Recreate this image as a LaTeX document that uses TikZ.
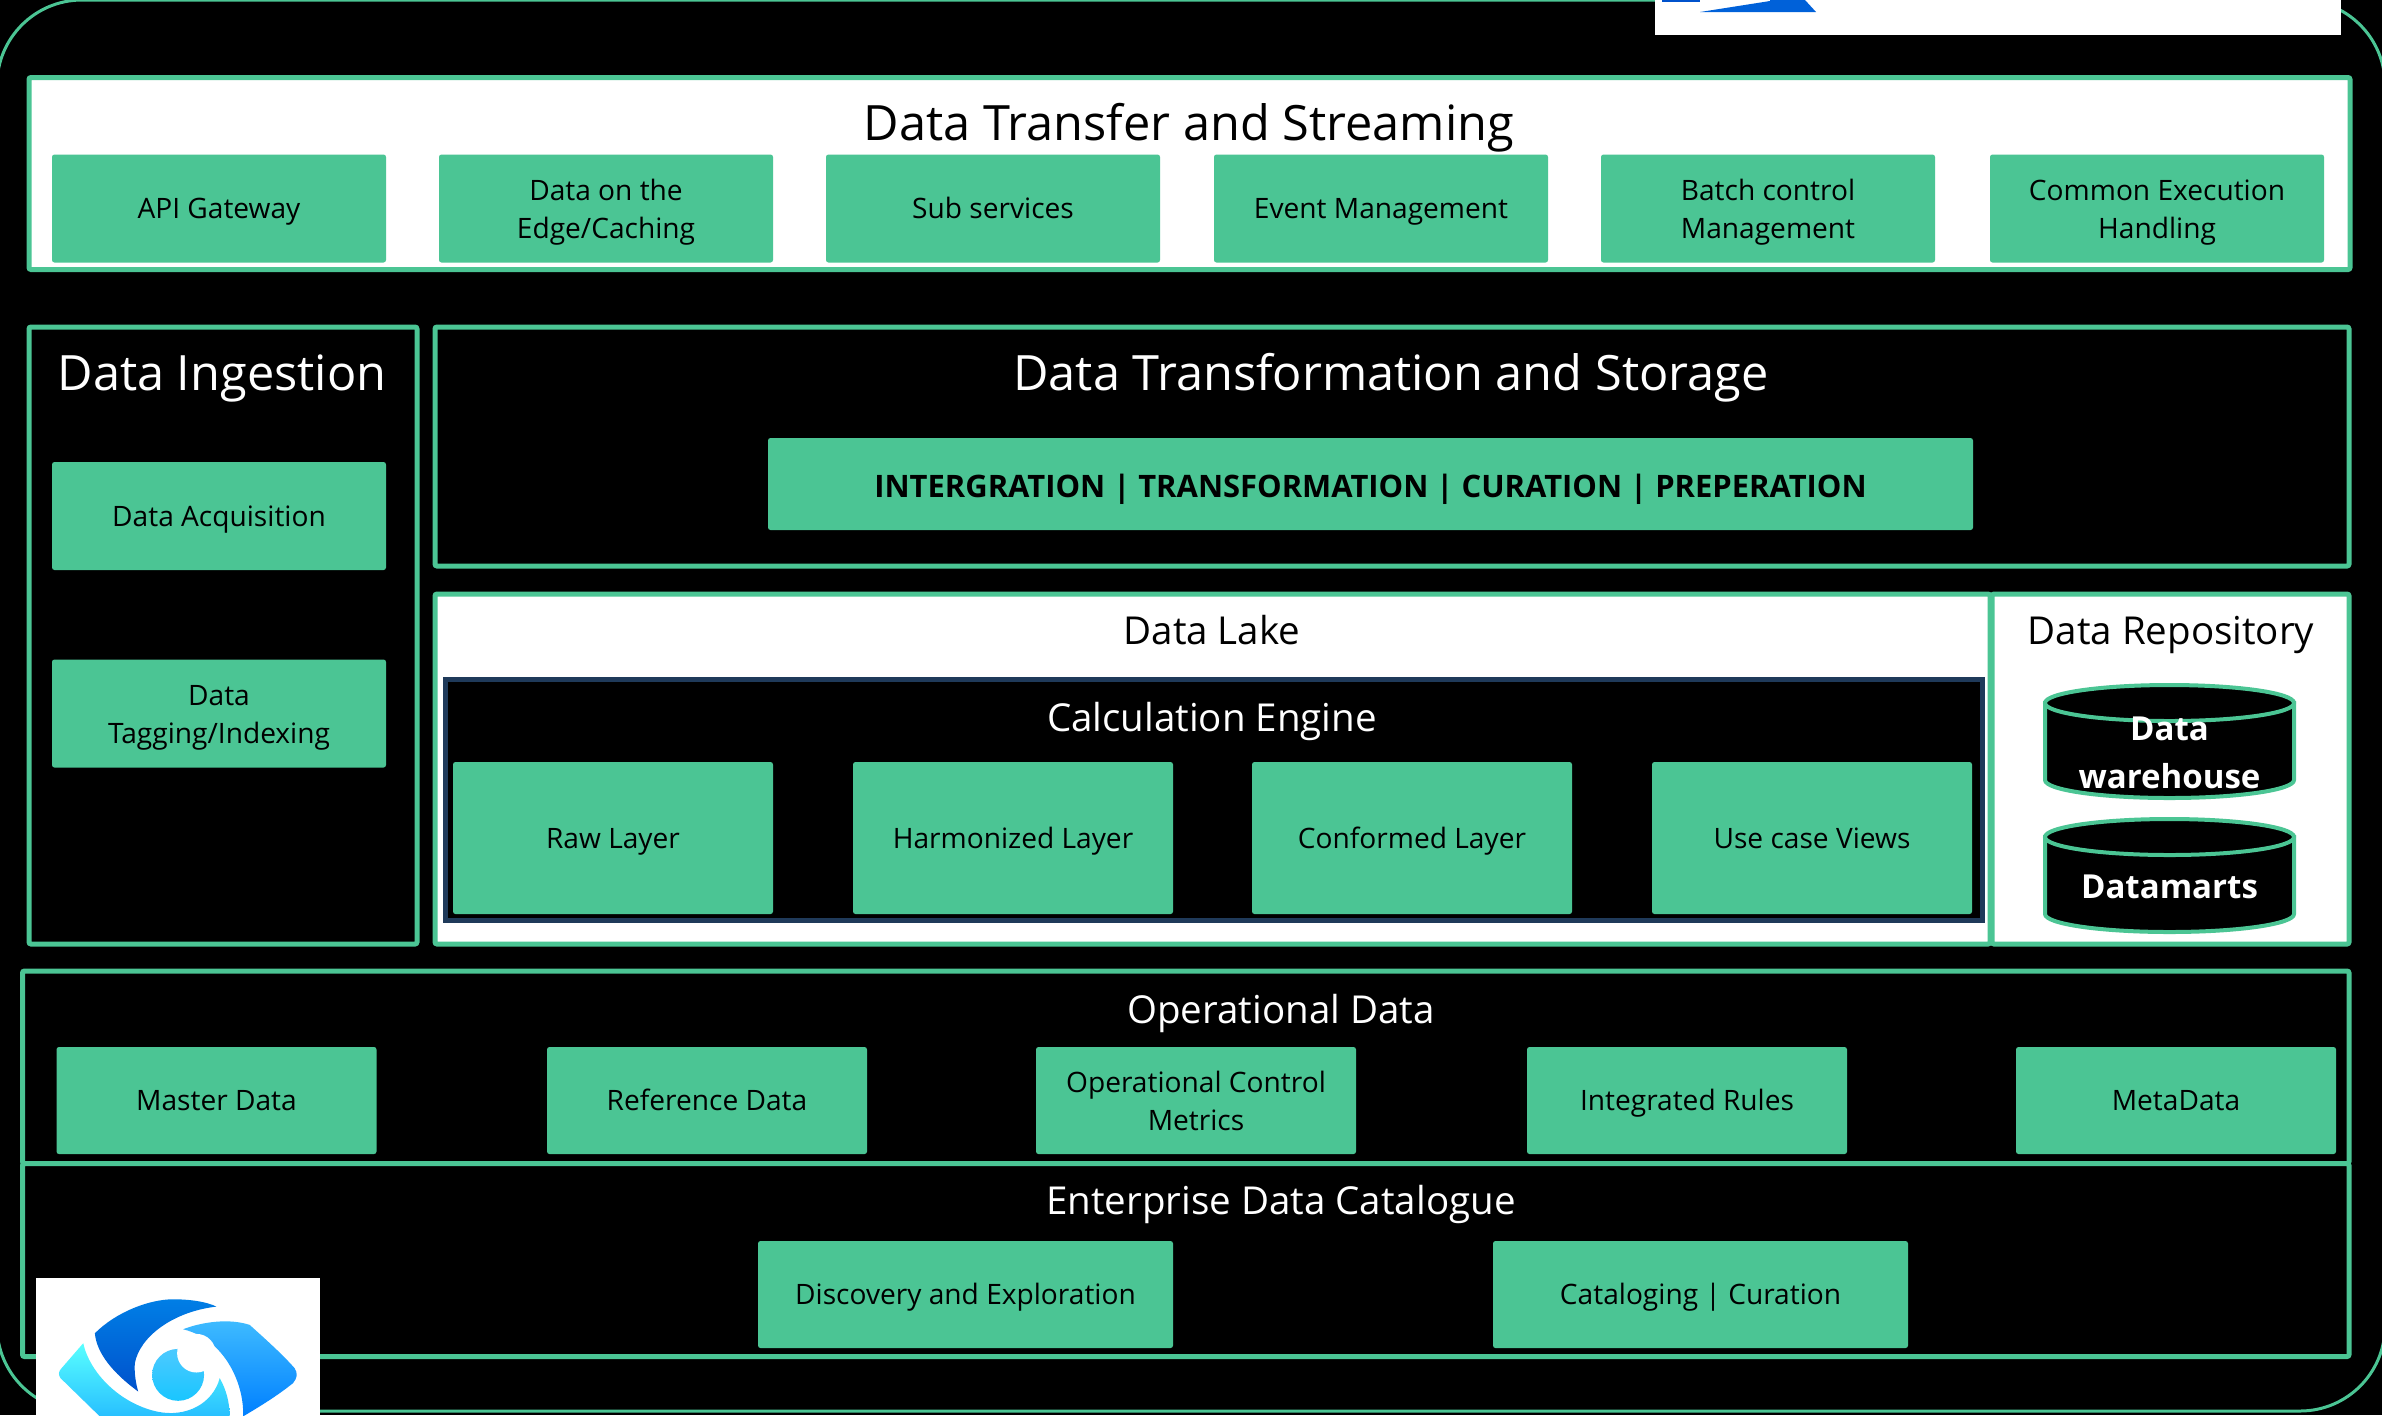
\documentclass[tikz,border=0pt]{standalone}
\usepackage{fontspec}
\setmainfont{Open Sans}
\definecolor{chipgreen}{HTML}{4BC594}
\definecolor{navy}{HTML}{1F3A5A}
\newcommand{\nodestrut}{\rule[-.26em]{0pt}{1.26em}}
\newcommand{\boldstrut}{\rule[-.3em]{0pt}{1.5em}}
\newcommand{\storedrum}[2]{
  \draw[storeline] (#1-124.5,#2) -- ++(0,77) arc (180:360:12.45mm and 1.8mm) -- ++(0,-77) -- cycle;
  \draw[storeline] (#1,#2) ellipse [x radius=12.45mm, y radius=1.8mm];
}
\tikzstyle{panel} = [rectangle, draw=chipgreen, line width=0.5mm, inner sep=0pt, rounded corners=0.2mm]
\tikzstyle{darkpanel} = [panel, fill=black]
\tikzstyle{lightpanel} = [panel, fill=white]
\tikzstyle{chip} = [rectangle, fill=chipgreen, inner sep=0pt, rounded corners=0.25mm, align=center, text=black, font=\fontsize{8}{10.8}\selectfont, execute at begin node=\nodestrut, execute at end node=\nodestrut]
\tikzstyle{wrapped} = [text height=6.7mm]
\tikzstyle{xferchip} = [chip, minimum width=33.4mm, minimum height=10.8mm]
\tikzstyle{layerchip} = [chip, minimum width=32mm, minimum height=15.2mm]
\tikzstyle{opschip} = [chip, minimum width=32mm, minimum height=10.7mm]
\tikzstyle{catchip} = [chip, minimum width=41.5mm, minimum height=10.7mm]
\tikzstyle{bigtitle} = [inner sep=0pt, font=\fontsize{13.85}{16}\selectfont, execute at begin node=\nodestrut]
\tikzstyle{midtitle} = [inner sep=0pt, font=\fontsize{10.95}{13}\selectfont, execute at begin node=\nodestrut]
\tikzstyle{storeline} = [draw=chipgreen, fill=black, line width=0.4mm]
\tikzstyle{storetext} = [inner sep=0pt, align=center, text=white, font=\fontsize{9.4}{13.4}\selectfont\bfseries, execute at begin node=\nodestrut, execute at end node=\nodestrut]
\tikzstyle{logobox} = [rectangle, fill=white, inner sep=0pt]

\begin{document}
\begin{tikzpicture}[x=0.1mm, y=-0.1mm]
  \useasboundingbox (0,0) rectangle (2382,1415);
  \clip (0,0) rectangle (2382,1415);
  \fill[black] (0,0) rectangle (2382,1415);
  \draw[chipgreen, line width=0.3mm, rounded corners=8.5mm] (-3,0) rectangle (2385,1411);

  % logo corners
  \node (toplogo) [logobox, minimum width=68.6mm, minimum height=3.5mm] at (1998,17.5) {};
  \fill[blue!60!cyan!80!black] (1662,0) rectangle (1700,2);
  \fill[blue!55!cyan!85!black] (1700,12) -- (1770,1) -- (1770,0) -- (1805,0) -- (1816,12) -- cycle;

  % transfer row
  \node (xfer) [lightpanel, minimum width=232.1mm, minimum height=19.2mm] at (1189.5,173.5) {};
  \node (xfertitle) [bigtitle] at (1189,122) {Data Transfer and Streaming};
  \node (api) [xferchip] at (219,208.5) {API Gateway};
  \node (edge) [xferchip, wrapped] at (606,208.5) {Data on the\\Edge/Caching};
  \node (sub) [xferchip] at (993,208.5) {Sub services};
  \node (event) [xferchip] at (1381,208.5) {Event Management};
  \node (batch) [xferchip, wrapped] at (1768,208.5) {Batch control\\Management};
  \node (common) [xferchip, wrapped] at (2157,208.5) {Common Execution\\Handling};

  % ingestion
  \node (ingest) [darkpanel, minimum width=38.8mm, minimum height=61.7mm] at (223,635.5) {};
  \node (ingesttitle) [bigtitle, text=white] at (222,372) {Data Ingestion};
  \node (acq) [xferchip] at (219,516) {Data Acquisition};
  \node (tag) [xferchip, wrapped] at (219,713.5) {Data\\Tagging/Indexing};

  % transformation
  \node (transform) [darkpanel, minimum width=191.4mm, minimum height=23.9mm] at (1392,446.5) {};
  \node (transformtitle) [bigtitle, text=white] at (1391,372) {Data Transformation and Storage};
  \node (steps) [chip, minimum width=120.5mm, minimum height=9.2mm, font=\fontsize{8.8}{10.8}\selectfont\bfseries, execute at begin node=\boldstrut] at (1370.5,484) {INTERGRATION | TRANSFORMATION | CURATION | PREPERATION};

  % lake and repository
  \node (lake) [lightpanel, minimum width=155.5mm, minimum height=35mm] at (1212.5,769) {};
  \node (repo) [lightpanel, minimum width=35.7mm, minimum height=35mm] at (2170.5,769) {};
  \node (laketitle) [midtitle] at (1212,630) {Data Lake};
  \node (repotitle) [midtitle] at (2171,630) {Data Repository};
  \node (calc) [rectangle, draw=navy, fill=black, line width=0.5mm, inner sep=0pt, minimum width=153.75mm, minimum height=24.05mm] at (1213.75,799.75) {};
  \node (calctitle) [midtitle, text=white] at (1212,717) {Calculation Engine};
  \node (raw) [layerchip] at (613,838) {Raw Layer};
  \node (harm) [layerchip] at (1013,838) {Harmonized Layer};
  \node (conf) [layerchip] at (1412,838) {Conformed Layer};
  \node (views) [layerchip] at (1812,838) {Use case Views};
  \storedrum{2169.5}{703}
  \node (dwhtext) [storetext] at (2169.5,757) {Data\\warehouse};
  \storedrum{2169.5}{837}
  \node (martstext) [storetext] at (2169.5,886) {Datamarts};

  % operational and catalogue
  \node (ops) [darkpanel, minimum width=232.65mm, minimum height=19.25mm] at (1185.75,1067.25) {};
  \node (catalog) [darkpanel, minimum width=232.65mm, minimum height=19.3mm] at (1185.75,1260) {};
  \node (opstitle) [midtitle, text=white] at (1281,1009) {Operational Data};
  \node (master) [opschip] at (216.5,1100.5) {Master Data};
  \node (reference) [opschip] at (707,1100.5) {Reference Data};
  \node (metrics) [opschip, wrapped] at (1196,1100.5) {Operational Control\\Metrics};
  \node (rules) [opschip] at (1687,1100.5) {Integrated Rules};
  \node (meta) [opschip] at (2176,1100.5) {MetaData};
  \node (catalogtitle) [midtitle, text=white] at (1281,1200) {Enterprise Data Catalogue};
  \node (discovery) [catchip] at (965.5,1294.5) {Discovery and Exploration};
  \node (curation) [catchip] at (1700.5,1294.5) {Cataloging | Curation};

  % eye logo
  \node (eyelogo) [logobox, minimum width=28.4mm, minimum height=13.7mm] at (178,1346.5) {};
  \begin{scope}[shift={(0,1240)}, x=0.0333mm, y=-0.0333mm]
    \shade[top color=blue!45!cyan!90!black, bottom color=blue!60!cyan!80!black] (285,280) .. controls (350,215) and (450,178) .. (520,178) .. controls (570,178) and (620,185) .. (650,200) .. controls (520,215) and (420,290) .. (405,370) .. controls (403,400) and (408,430) .. (415,455) .. controls (340,400) and (290,340) .. (285,280) -- cycle;
    \shade[top color=blue!35!cyan!75!white, bottom color=blue!50!cyan] (550,268) .. controls (610,245) and (690,235) .. (750,255) .. controls (800,300) and (850,345) .. (885,385) .. controls (895,400) and (893,415) .. (880,430) .. controls (830,470) and (780,500) .. (730,530) .. controls (735,440) and (680,300) .. (550,268) -- cycle;
    \shade[top color=cyan!65!white, bottom color=cyan!70!blue!85!white] (250,310) .. controls (270,400) and (360,490) .. (470,515) .. controls (560,535) and (640,490) .. (660,415) .. controls (680,450) and (690,490) .. (690,530) -- (300,530) -- (182,415) .. controls (175,405) and (175,395) .. (185,385) -- cycle;
    \shade[top color=cyan!70!blue!70!white, bottom color=cyan!75!blue!90!white] (535,405) circle [radius=78];
    \fill[white] (590,340) circle [radius=58];
  \end{scope}
\end{tikzpicture}
\end{document}
